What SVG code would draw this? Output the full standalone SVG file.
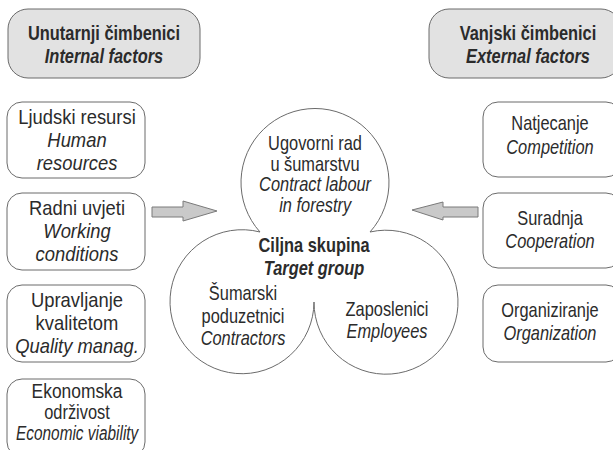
<svg xmlns="http://www.w3.org/2000/svg" width="613" height="450" viewBox="0 0 613 450">
<style>
.t { font-family: "Liberation Sans", Arial, sans-serif; font-size: 20px; fill: #2b2b2b; text-anchor: middle; transform-box: fill-box; transform-origin: center; transform: scaleX(0.82); }
.i { font-style: italic; }
.b { font-weight: bold; }
.w { transform: scaleX(0.92); }
.m { transform: scaleX(0.87); }
.nx { transform: scaleX(0.77); }
.box { fill: #ffffff; stroke: #6b6b6b; stroke-width: 1; }
.hdr { fill: #e2e2e2; stroke: #6b6b6b; stroke-width: 1; }
.arrow { fill: #c9c9c9; stroke: #7a7a7a; stroke-width: 1; }
.clover { fill: #ffffff; stroke: #6b6b6b; stroke-width: 1; }
</style>
<rect width="613" height="450" fill="#ffffff"/>

<g id="header-internal">
  <rect class="hdr" x="8" y="9" width="192" height="69" rx="20"/>
  <text class="t b" x="104" y="40">Unutarnji čimbenici</text>
  <text class="t b i" x="104" y="63">Internal factors</text>
</g>
<g id="header-external">
  <rect class="hdr" x="429" y="9" width="192" height="69" rx="20"/>
  <text class="t b" x="528" y="40">Vanjski čimbenici</text>
  <text class="t b i" x="528" y="63">External factors</text>
</g>

<g id="human-resources">
  <rect class="box" x="7" y="102" width="138" height="76" rx="15"/>
  <text class="t w" x="77" y="124">Ljudski resursi</text>
  <text class="t i w" x="77" y="147">Human</text>
  <text class="t i w" x="77" y="170">resources</text>
</g>
<g id="working-conditions">
  <rect class="box" x="7" y="193" width="138" height="77" rx="15"/>
  <text class="t w" x="77" y="215">Radni uvjeti</text>
  <text class="t i w" x="77" y="238">Working</text>
  <text class="t i w" x="77" y="261">conditions</text>
</g>
<g id="quality-management">
  <rect class="box" x="7" y="285" width="138" height="77" rx="15"/>
  <text class="t w" x="77" y="307">Upravljanje</text>
  <text class="t w" x="77" y="330">kvalitetom</text>
  <text class="t i w" x="77" y="353">Quality manag.</text>
</g>
<g id="economic-viability">
  <rect class="box" x="7" y="379" width="138" height="78" rx="15"/>
  <text class="t m" x="77" y="398">Ekonomska</text>
  <text class="t" x="77" y="419">održivost</text>
  <text class="t i nx" x="77" y="440">Economic viability</text>
</g>

<g id="competition">
  <rect class="box" x="483" y="102" width="138" height="75" rx="15"/>
  <text class="t" x="550" y="130">Natjecanje</text>
  <text class="t i" x="550" y="154">Competition</text>
</g>
<g id="cooperation">
  <rect class="box" x="483" y="193" width="138" height="75" rx="15"/>
  <text class="t" x="550" y="225">Suradnja</text>
  <text class="t i" x="550" y="248">Cooperation</text>
</g>
<g id="organization">
  <rect class="box" x="483" y="285" width="138" height="77" rx="15"/>
  <text class="t" x="550" y="317">Organiziranje</text>
  <text class="t i" x="550" y="340">Organization</text>
</g>

<g id="target-group">
  <path class="clover" d="M 260 232 A 74 74 0 1 1 370 232 A 72 72 0 1 1 314 302 A 72 72 0 1 1 260 232 Z"/>
  <g id="contract-labour">
    <text class="t" x="315" y="150">Ugovorni rad</text>
    <text class="t" x="315" y="171">u šumarstvu</text>
    <text class="t i" x="315" y="191">Contract labour</text>
    <text class="t i" x="315" y="212">in forestry</text>
  </g>
  <text class="t b" x="314" y="252">Ciljna skupina</text>
  <text class="t b i" x="314" y="275">Target group</text>
  <g id="contractors">
    <text class="t" x="243" y="300">Šumarski</text>
    <text class="t" x="243" y="323">poduzetnici</text>
    <text class="t i" x="243" y="345">Contractors</text>
  </g>
  <g id="employees">
    <text class="t" x="387" y="316">Zaposlenici</text>
    <text class="t i" x="387" y="338">Employees</text>
  </g>
</g>

<g id="connectors">
  <polygon class="arrow" points="152,207 183,207 183,201 217,211 183,221 183,217 152,217"/>
  <polygon class="arrow" points="478,207 443,207 443,202 412,210 443,220 443,217 478,217"/>
</g>
</svg>
